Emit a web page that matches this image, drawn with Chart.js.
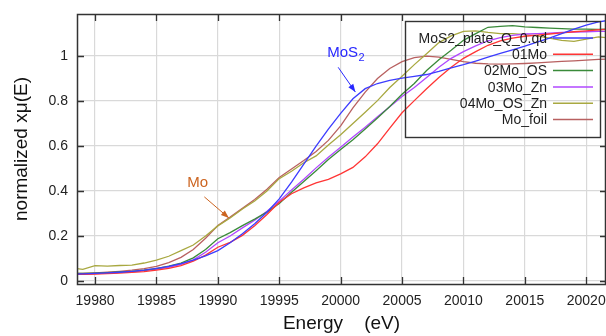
<!DOCTYPE html>
<html>
<head>
<meta charset="utf-8">
<script src="https://cdn.jsdelivr.net/npm/chart.js@4/dist/chart.umd.min.js"></script>
<style>
  body { margin: 0; background: #fff; }
  #xanesChart { display: block; }
</style>
</head>
<body>
<canvas id="xanesChart" width="606" height="336"></canvas>
<script>
// photon energy, eV
const energy = [19978, 19979, 19980, 19981, 19982, 19983, 19984, 19985, 19986, 19987, 19988, 19989,
  19990, 19991, 19992, 19993, 19994, 19995, 19996, 19997, 19998, 19999,
  20000, 20001, 20002, 20003, 20004, 20005, 20006, 20007, 20008, 20009, 20010, 20011,
  20012, 20013, 20014, 20015, 20016, 20017, 20018, 20019, 20020, 20021, 20022];

const mos2Plate = [0.030, 0.032, 0.034, 0.036, 0.039, 0.043, 0.048, 0.056, 0.065, 0.077, 0.093, 0.112,
  0.135, 0.170, 0.210, 0.255, 0.306, 0.365, 0.440, 0.520, 0.600, 0.675,
  0.745, 0.810, 0.855, 0.878, 0.892, 0.902, 0.910, 0.918, 0.932, 0.948, 0.962, 0.978,
  0.995, 1.012, 1.028, 1.044, 1.062, 1.080, 1.100, 1.120, 1.138, 1.152, 1.160];

const mo01 = [0.028, 0.030, 0.031, 0.033, 0.035, 0.038, 0.042, 0.048, 0.056, 0.068, 0.088, 0.115,
  0.150, 0.172, 0.203, 0.246, 0.296, 0.350, 0.388, 0.414, 0.436, 0.452,
  0.476, 0.505, 0.552, 0.610, 0.680, 0.748, 0.802, 0.855, 0.905, 0.950, 0.990, 1.020,
  1.048, 1.068, 1.080, 1.088, 1.093, 1.098, 1.103, 1.108, 1.112, 1.117, 1.120];

const mo02OS = [0.033, 0.034, 0.035, 0.037, 0.040, 0.043, 0.048, 0.055, 0.066, 0.080, 0.103, 0.140,
  0.188, 0.215, 0.246, 0.275, 0.306, 0.345, 0.395, 0.442, 0.490, 0.540,
  0.585, 0.628, 0.676, 0.725, 0.776, 0.830, 0.878, 0.936, 0.984, 1.026, 1.070, 1.100,
  1.128, 1.132, 1.135, 1.130, 1.127, 1.124, 1.122, 1.120, 1.120, 1.118, 1.120];

const mo03Zn = [0.030, 0.031, 0.033, 0.035, 0.038, 0.041, 0.046, 0.052, 0.061, 0.074, 0.094, 0.128,
  0.170, 0.200, 0.236, 0.270, 0.310, 0.355, 0.405, 0.452, 0.503, 0.550,
  0.595, 0.640, 0.684, 0.730, 0.775, 0.820, 0.860, 0.905, 0.950, 0.990, 1.020, 1.045,
  1.068, 1.082, 1.092, 1.098, 1.100, 1.102, 1.105, 1.107, 1.108, 1.110, 1.110];

const mo04OSZn = [0.058, 0.052, 0.068, 0.066, 0.069, 0.071, 0.080, 0.093, 0.110, 0.135, 0.160, 0.200,
  0.245, 0.280, 0.320, 0.356, 0.400, 0.455, 0.488, 0.526, 0.556, 0.605,
  0.650, 0.700, 0.750, 0.802, 0.860, 0.910, 0.962, 1.010, 1.060, 1.090, 1.110, 1.112,
  1.105, 1.100, 1.100, 1.095, 1.090, 1.080, 1.070, 1.065, 1.075, 1.085, 1.080];

const moFoil = [0.033, 0.034, 0.036, 0.039, 0.043, 0.048, 0.055, 0.065, 0.082, 0.105, 0.140, 0.190,
  0.247, 0.284, 0.323, 0.362, 0.408, 0.460, 0.498, 0.536, 0.576, 0.625,
  0.690, 0.770, 0.840, 0.900, 0.945, 0.975, 0.993, 1.000, 0.995, 0.985, 0.975, 0.968,
  0.965, 0.964, 0.965, 0.967, 0.970, 0.973, 0.976, 0.979, 0.982, 0.985, 0.987];

const seriesLabels = ['MoS2_plate_Q_0.qd', '01Mo', '02Mo_OS', '03Mo_Zn', '04Mo_OS_Zn', 'Mo_foil'];
const seriesColors = ['#3c3cff', '#ff3535', '#3a8a3a', '#b048ff', '#a8a840', '#b86060'];
const xTicks = [19980, 19985, 19990, 19995, 20000, 20005, 20010, 20015, 20020];
const yTicks = [0, 0.2, 0.4, 0.6, 0.8, 1];

const allSeries = [mos2Plate, mo01, mo02OS, mo03Zn, mo04OSZn, moFoil];
const FONT = '"Liberation Sans", Arial, sans-serif';

// box round the plot, inward ticks, the legend box and the two labels
const decorations = {
    id: 'decorations',
    afterDatasetsDraw: (chart) => {
        const ctx = chart.ctx;
        const { left, right, top, bottom } = chart.chartArea;
        const xs = chart.scales.x, ys = chart.scales.y;
        ctx.save();
        ctx.strokeStyle = '#333';
        ctx.lineWidth = 1.5;
        ctx.strokeRect(left + 0.5, top + 0.5, right - left - 1, bottom - top);
        ctx.lineWidth = 1.3;
        ctx.beginPath();
        xTicks.forEach(v => {
            const px = Math.round(xs.getPixelForValue(v)) + 0.5;
            ctx.moveTo(px, bottom); ctx.lineTo(px, bottom - 7);
            ctx.moveTo(px, top); ctx.lineTo(px, top + 7);
        });
        yTicks.forEach(v => {
            const py = Math.round(ys.getPixelForValue(v)) + 0.5;
            ctx.moveTo(left, py); ctx.lineTo(left + 7, py);
            ctx.moveTo(right, py); ctx.lineTo(right - 6, py);
        });
        ctx.stroke();

        // legend
        ctx.lineWidth = 1.4;
        ctx.strokeStyle = '#333';
        ctx.strokeRect(405.5, 21.5, 195, 116);
        ctx.font = '14px ' + FONT;
        ctx.textAlign = 'right';
        ctx.textBaseline = 'middle';
        seriesLabels.forEach((lab, i) => {
            const y = 38 + i * 16.3;
            ctx.fillStyle = '#1e1e1e';
            ctx.fillText(lab, 547, y + 1);
            ctx.strokeStyle = seriesColors[i];
            ctx.lineWidth = 1.5;
            ctx.beginPath();
            ctx.moveTo(553, y); ctx.lineTo(593, y);
            ctx.stroke();
        });

        const arrow = (x1, y1, x2, y2, color) => {
            const a = xs.getPixelForValue(x1), b = ys.getPixelForValue(y1);
            const c = xs.getPixelForValue(x2), d = ys.getPixelForValue(y2);
            const ang = Math.atan2(d - b, c - a);
            ctx.strokeStyle = color;
            ctx.fillStyle = color;
            ctx.lineWidth = 1;
            ctx.beginPath();
            ctx.moveTo(a, b); ctx.lineTo(c, d);
            ctx.stroke();
            ctx.beginPath();
            ctx.moveTo(c, d);
            ctx.lineTo(c - 8 * Math.cos(ang) + 3 * Math.sin(ang), d - 8 * Math.sin(ang) - 3 * Math.cos(ang));
            ctx.lineTo(c - 8 * Math.cos(ang) - 3 * Math.sin(ang), d - 8 * Math.sin(ang) + 3 * Math.cos(ang));
            ctx.closePath();
            ctx.fill();
        };

        // MoS2 label
        ctx.textAlign = 'left';
        ctx.fillStyle = '#2828ff';
        ctx.font = '15px ' + FONT;
        const mx = xs.getPixelForValue(19998.9), my = ys.getPixelForValue(1.013);
        ctx.fillText('MoS', mx, my);
        const w = ctx.measureText('MoS').width;
        ctx.font = '11px ' + FONT;
        ctx.fillText('2', mx + w + 0.5, my + 5);
        arrow(19999.8, 0.95, 20001.2, 0.84, '#2828ff');

        // Mo label
        ctx.fillStyle = '#cc6420';
        ctx.font = '15px ' + FONT;
        ctx.fillText('Mo', xs.getPixelForValue(19987.5), ys.getPixelForValue(0.436));
        arrow(19988.9, 0.374, 19990.9, 0.28, '#cc6420');
        ctx.restore();
    }
};

const ctx = document.getElementById('xanesChart').getContext('2d');
const myChart = new Chart(ctx, {
    type: 'line',
    data: {
        datasets: allSeries.map((vals, i) => ({
            label: seriesLabels[i],
            data: energy.map((e, j) => ({ x: e, y: vals[j] })),
            borderColor: seriesColors[i],
            borderWidth: 1.3,
            pointRadius: 0,
            tension: 0,
            fill: false
        }))
    },
    options: {
        responsive: false,
        animation: false,
        devicePixelRatio: 1,
        layout: { padding: { top: 14, right: 0, left: 0, bottom: 0 } },
        plugins: { legend: { display: false }, tooltip: { enabled: false } },
        scales: {
            x: {
                type: 'linear',
                min: 19978.53,
                max: 20021.61,
                afterFit: (s) => { s.height = 52; s.paddingLeft = 0; s.paddingRight = 0; },
                afterBuildTicks: (s) => { s.ticks = xTicks.map(v => ({ value: v })); },
                grid: { color: '#d9d9d9', lineWidth: 1.2, drawTicks: false },
                border: { display: false },
                ticks: {
                    padding: 9,
                    color: '#222',
                    font: { family: FONT, size: 14 },
                    maxRotation: 0,
                    autoSkip: false,
                    callback: (v) => String(v)
                },
                title: {
                    display: true,
                    text: 'Energy    (eV)',
                    color: '#111',
                    font: { family: FONT, size: 19 },
                    padding: { top: 0, bottom: 1 }
                }
            },
            y: {
                min: -0.0133,
                max: 1.187,
                afterFit: (s) => { s.width = 77; s.paddingTop = 0; s.paddingBottom = 0; },
                afterBuildTicks: (s) => { s.ticks = yTicks.map(v => ({ value: v })); },
                grid: { color: '#d9d9d9', lineWidth: 1.2, drawTicks: false },
                border: { display: false },
                ticks: {
                    padding: 9,
                    color: '#222',
                    font: { family: FONT, size: 14 },
                    callback: (v) => String(v)
                },
                title: {
                    display: true,
                    text: 'normalized xμ(E)',
                    color: '#111',
                    font: { family: FONT, size: 19 },
                    padding: { top: 10, bottom: 0 }
                }
            }
        }
    },
    plugins: [decorations]
});
</script>
</body>
</html>
